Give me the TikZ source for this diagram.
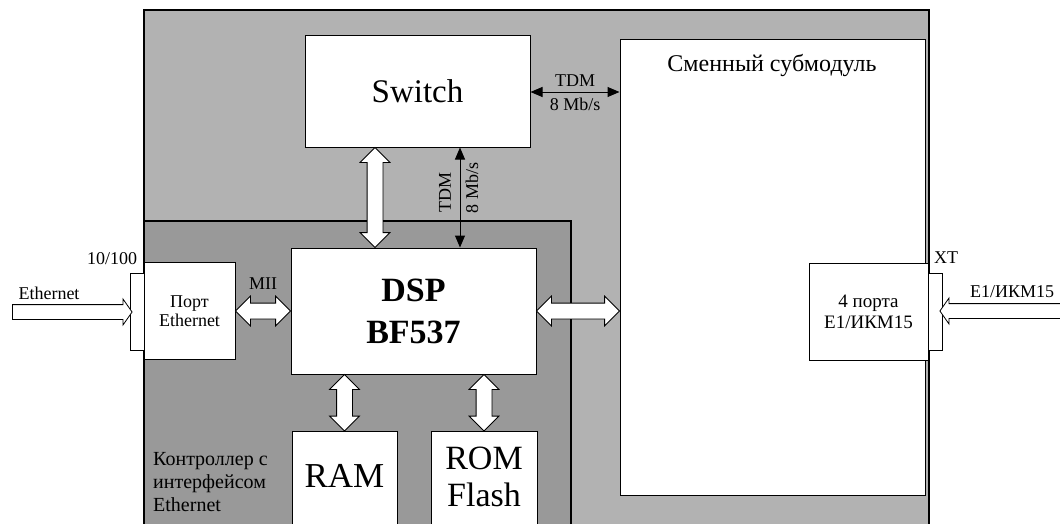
\documentclass[tikz,border=0pt]{standalone}
\usepackage{fontspec}
\setmainfont{Liberation Serif}
\usetikzlibrary{calc,shapes.arrows,arrows.meta}
\definecolor{panelgray}{gray}{0.70}
\definecolor{ctrlgray}{gray}{0.60}
\tikzset{
  blk/.style={draw, fill=white, line width=1pt, inner sep=0pt, align=center},
  dblarr/.style={double arrow, draw, fill=white, line width=0.8pt, inner xsep=0pt, inner ysep=7.5pt,
    outer sep=0pt, double arrow head extend=7pt, double arrow tip angle=90},
  sglarr/.style={single arrow, draw, fill=white, line width=0.8pt, inner xsep=0pt, inner ysep=7pt,
    outer sep=0pt, single arrow head extend=5.5pt, single arrow tip angle=110},
  tdm/.style={line width=1pt, {Triangle[length=12pt,width=10pt]}-{Triangle[length=12pt,width=10pt]}},
  txt/.style={font=\fontsize{18}{20}\selectfont, inner sep=0pt}
}
% hollow arrow stretched between two points
\newcommand{\fatarrow}[3]{%
  \path let \p1=(#2), \p2=(#3), \n1={veclen(\x2-\x1,\y2-\y1)}, \n2={atan2(\y2-\y1,\x2-\x1)} in
    node[#1, minimum height=\n1, rotate=\n2] at ($(\p1)!0.5!(\p2)$) {};}
\begin{document}
\begin{tikzpicture}[x=1pt, y=-1pt]
\useasboundingbox (0,0) rectangle (1060,523);
% panels
\draw[fill=panelgray, line width=1.2pt] (144,10) rectangle (929,560);
\draw[fill=ctrlgray, line width=1.2pt] (144,221) rectangle (571,560);
\node[blk, minimum width=305pt, minimum height=456pt] (sub) at (772.5,267) {};
\node[txt, font=\fontsize{24}{26}\selectfont] (subname) at (772,65) {Сменный субмодуль};
% blocks
\node[blk, minimum width=225pt, minimum height=112pt, font=\fontsize{33}{36}\selectfont] (switch) at (417.5,91) {Switch};
\node[blk, minimum width=245pt, minimum height=126pt, font=\fontsize{34}{42}\bfseries] (dsp) at (413.5,311) {DSP\\BF537};
\node[blk, minimum width=91pt, minimum height=97pt, font=\fontsize{18}{19}\selectfont] (port) at (189.5,311) {Порт\\Ethernet};
\node[blk, minimum width=14pt, minimum height=77pt] (ethconn) at (137,311.5) {};
\node[blk, minimum width=119pt, minimum height=97pt, font=\fontsize{19}{21}\selectfont] (e1port) at (868.5,311.5) {4 порта\\E1/ИКМ15};
\node[blk, minimum width=14pt, minimum height=77pt] (xtconn) at (935,311.5) {};
\node[blk, minimum width=105pt, minimum height=130pt, anchor=north] (ram) at (344.5,431) {};
\node[font=\fontsize{35}{38}\selectfont, inner sep=0pt] (ramtxt) at (344.5,476) {RAM};
\node[blk, minimum width=106pt, minimum height=130pt, anchor=north] (rom) at (484,431) {};
\node[font=\fontsize{34}{37}\selectfont, inner sep=0pt, align=center] (romtxt) at (484,477) {ROM\\Flash};
\node[txt, font=\fontsize{20}{23}\selectfont, anchor=west, align=left] (ctrlname) at (153,482) {Контроллер с\\интерфейсом\\Ethernet};
% labels
\node[txt] (lbl100) at (112,259) {10/100};
\node[txt] (lbleth) at (49,293) {Ethernet};
\node[txt] (lblmii) at (263,284) {MII};
\node[txt] (lblxt) at (946,258) {XT};
\node[txt] (lble1) at (1012,292) {E1/ИКМ15};
% TDM links
\coordinate (tdmy) at (0,92);
\coordinate (tdmx) at (460,0);
\draw[tdm] (switch.east |- tdmy) -- (sub.west |- tdmy)
  node[txt, midway, above=5pt] {TDM} node[txt, midway, below=6pt] {8 Mb/s};
\draw[tdm] (switch.south -| tdmx) -- (dsp.north -| tdmx);
\node[txt, rotate=90] (tdmvl) at (445,192) {TDM};
\node[txt, rotate=90] (tdmvr) at (472,188) {8 Mb/s};
% hollow arrows
\coordinate (swx) at (375,0);
\coordinate (ethin) at (10,312);
\coordinate (e1in) at (1065,311);
\fatarrow{dblarr}{switch.south -| swx}{dsp.north -| swx}
\fatarrow{dblarr}{port.east}{dsp.west}
\fatarrow{dblarr}{dsp.east}{sub.west |- dsp.east}
\fatarrow{dblarr}{dsp.south -| ram.north}{ram.north}
\fatarrow{dblarr}{dsp.south -| rom.north}{rom.north}
\fatarrow{sglarr}{ethin}{ethconn.west |- ethin}
\fatarrow{sglarr}{e1in}{xtconn.east |- e1in}
\end{tikzpicture}
\end{document}
